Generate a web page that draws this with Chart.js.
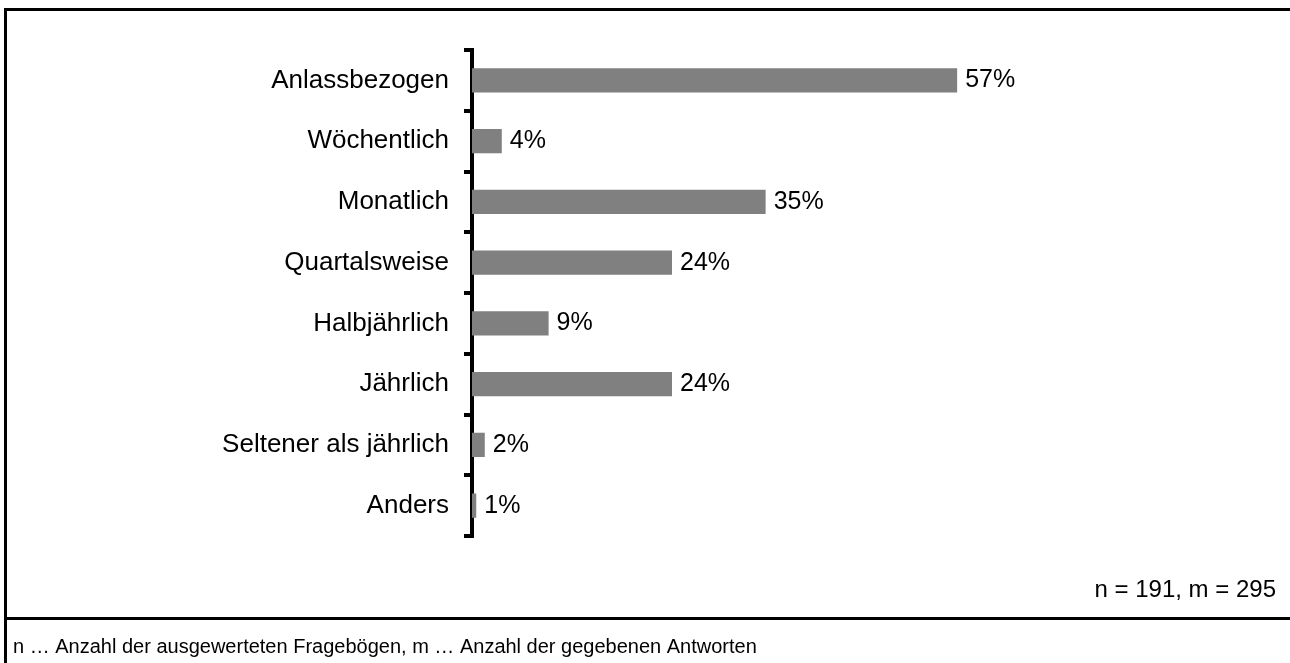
<!DOCTYPE html>
<html lang="de">
<head>
  <meta charset="UTF-8" />
  <title>Häufigkeit</title>
  <script src="https://cdn.jsdelivr.net/npm/chart.js"></script>
  <style>
    html, body { margin: 0; padding: 0; background: #fff; }
    #chart { display: block; }
  </style>
</head>
<body>
  <canvas id="chart" width="1290" height="663"></canvas>

  <script>
    const categories = ['Anlassbezogen', 'Wöchentlich', 'Monatlich', 'Quartalsweise', 'Halbjährlich', 'Jährlich', 'Seltener als jährlich', 'Anders'];
    const values = [57, 3.5, 34.5, 23.5, 9, 23.5, 1.5, 0.5];
    const valueLabels = ['57%', '4%', '35%', '24%', '9%', '24%', '2%', '1%'];
    const sampleNote = 'n = 191, m = 295';
    const footerNote = 'n … Anzahl der ausgewerteten Fragebögen, m … Anzahl der gegebenen Antworten';

    const FAMILY = '"Liberation Sans", Arial, sans-serif';

    // value labels right of each bar
    const barLabels = {
      id: 'barLabels',
      afterDatasetsDraw(chart) {
        const ctx = chart.ctx;
        const meta = chart.getDatasetMeta(0);
        ctx.save();
        ctx.font = '25px ' + FAMILY;
        ctx.fillStyle = '#000';
        ctx.textAlign = 'left';
        ctx.textBaseline = 'middle';
        meta.data.forEach((bar, i) => {
          ctx.fillText(valueLabels[i], bar.x + 8, bar.y);
        });
        ctx.restore();
      }
    };

    // frame lines and notes
    const frame = {
      id: 'frame',
      afterDraw(chart) {
        const ctx = chart.ctx;
        ctx.save();
        ctx.fillStyle = '#000';
        ctx.fillRect(4, 8, 1286, 3);
        ctx.fillRect(4, 8, 3, 655);
        ctx.fillRect(4, 617, 1286, 3);
        ctx.textBaseline = 'alphabetic';
        ctx.font = '24px ' + FAMILY;
        ctx.textAlign = 'right';
        ctx.fillText(sampleNote, 1276, 597);
        ctx.font = '20px ' + FAMILY;
        ctx.textAlign = 'left';
        ctx.fillText(footerNote, 13, 653);
        ctx.restore();
      }
    };

    new Chart(document.getElementById('chart'), {
      type: 'bar',
      data: {
        labels: categories,
        datasets: [{
          data: values,
          backgroundColor: '#808080',
          borderWidth: 0,
          barPercentage: 0.4,
          categoryPercentage: 1
        }]
      },
      options: {
        indexAxis: 'y',
        responsive: false,
        animation: false,
        devicePixelRatio: 1,
        layout: { padding: { top: 50, bottom: 127, left: 0, right: 52 } },
        plugins: {
          legend: { display: false },
          tooltip: { enabled: false }
        },
        scales: {
          x: {
            display: false,
            min: 0,
            max: 90
          },
          y: {
            z: 1,
            afterFit(scale) { scale.width = 472; },
            border: { display: true, width: 4, color: '#000' },
            grid: {
              drawOnChartArea: false,
              drawTicks: true,
              tickLength: 8,
              lineWidth: 4,
              color: '#000'
            },
            ticks: {
              padding: 15,
              color: '#000',
              font: { family: FAMILY, size: 26 }
            }
          }
        }
      },
      plugins: [barLabels, frame]
    });
  </script>
</body>
</html>
